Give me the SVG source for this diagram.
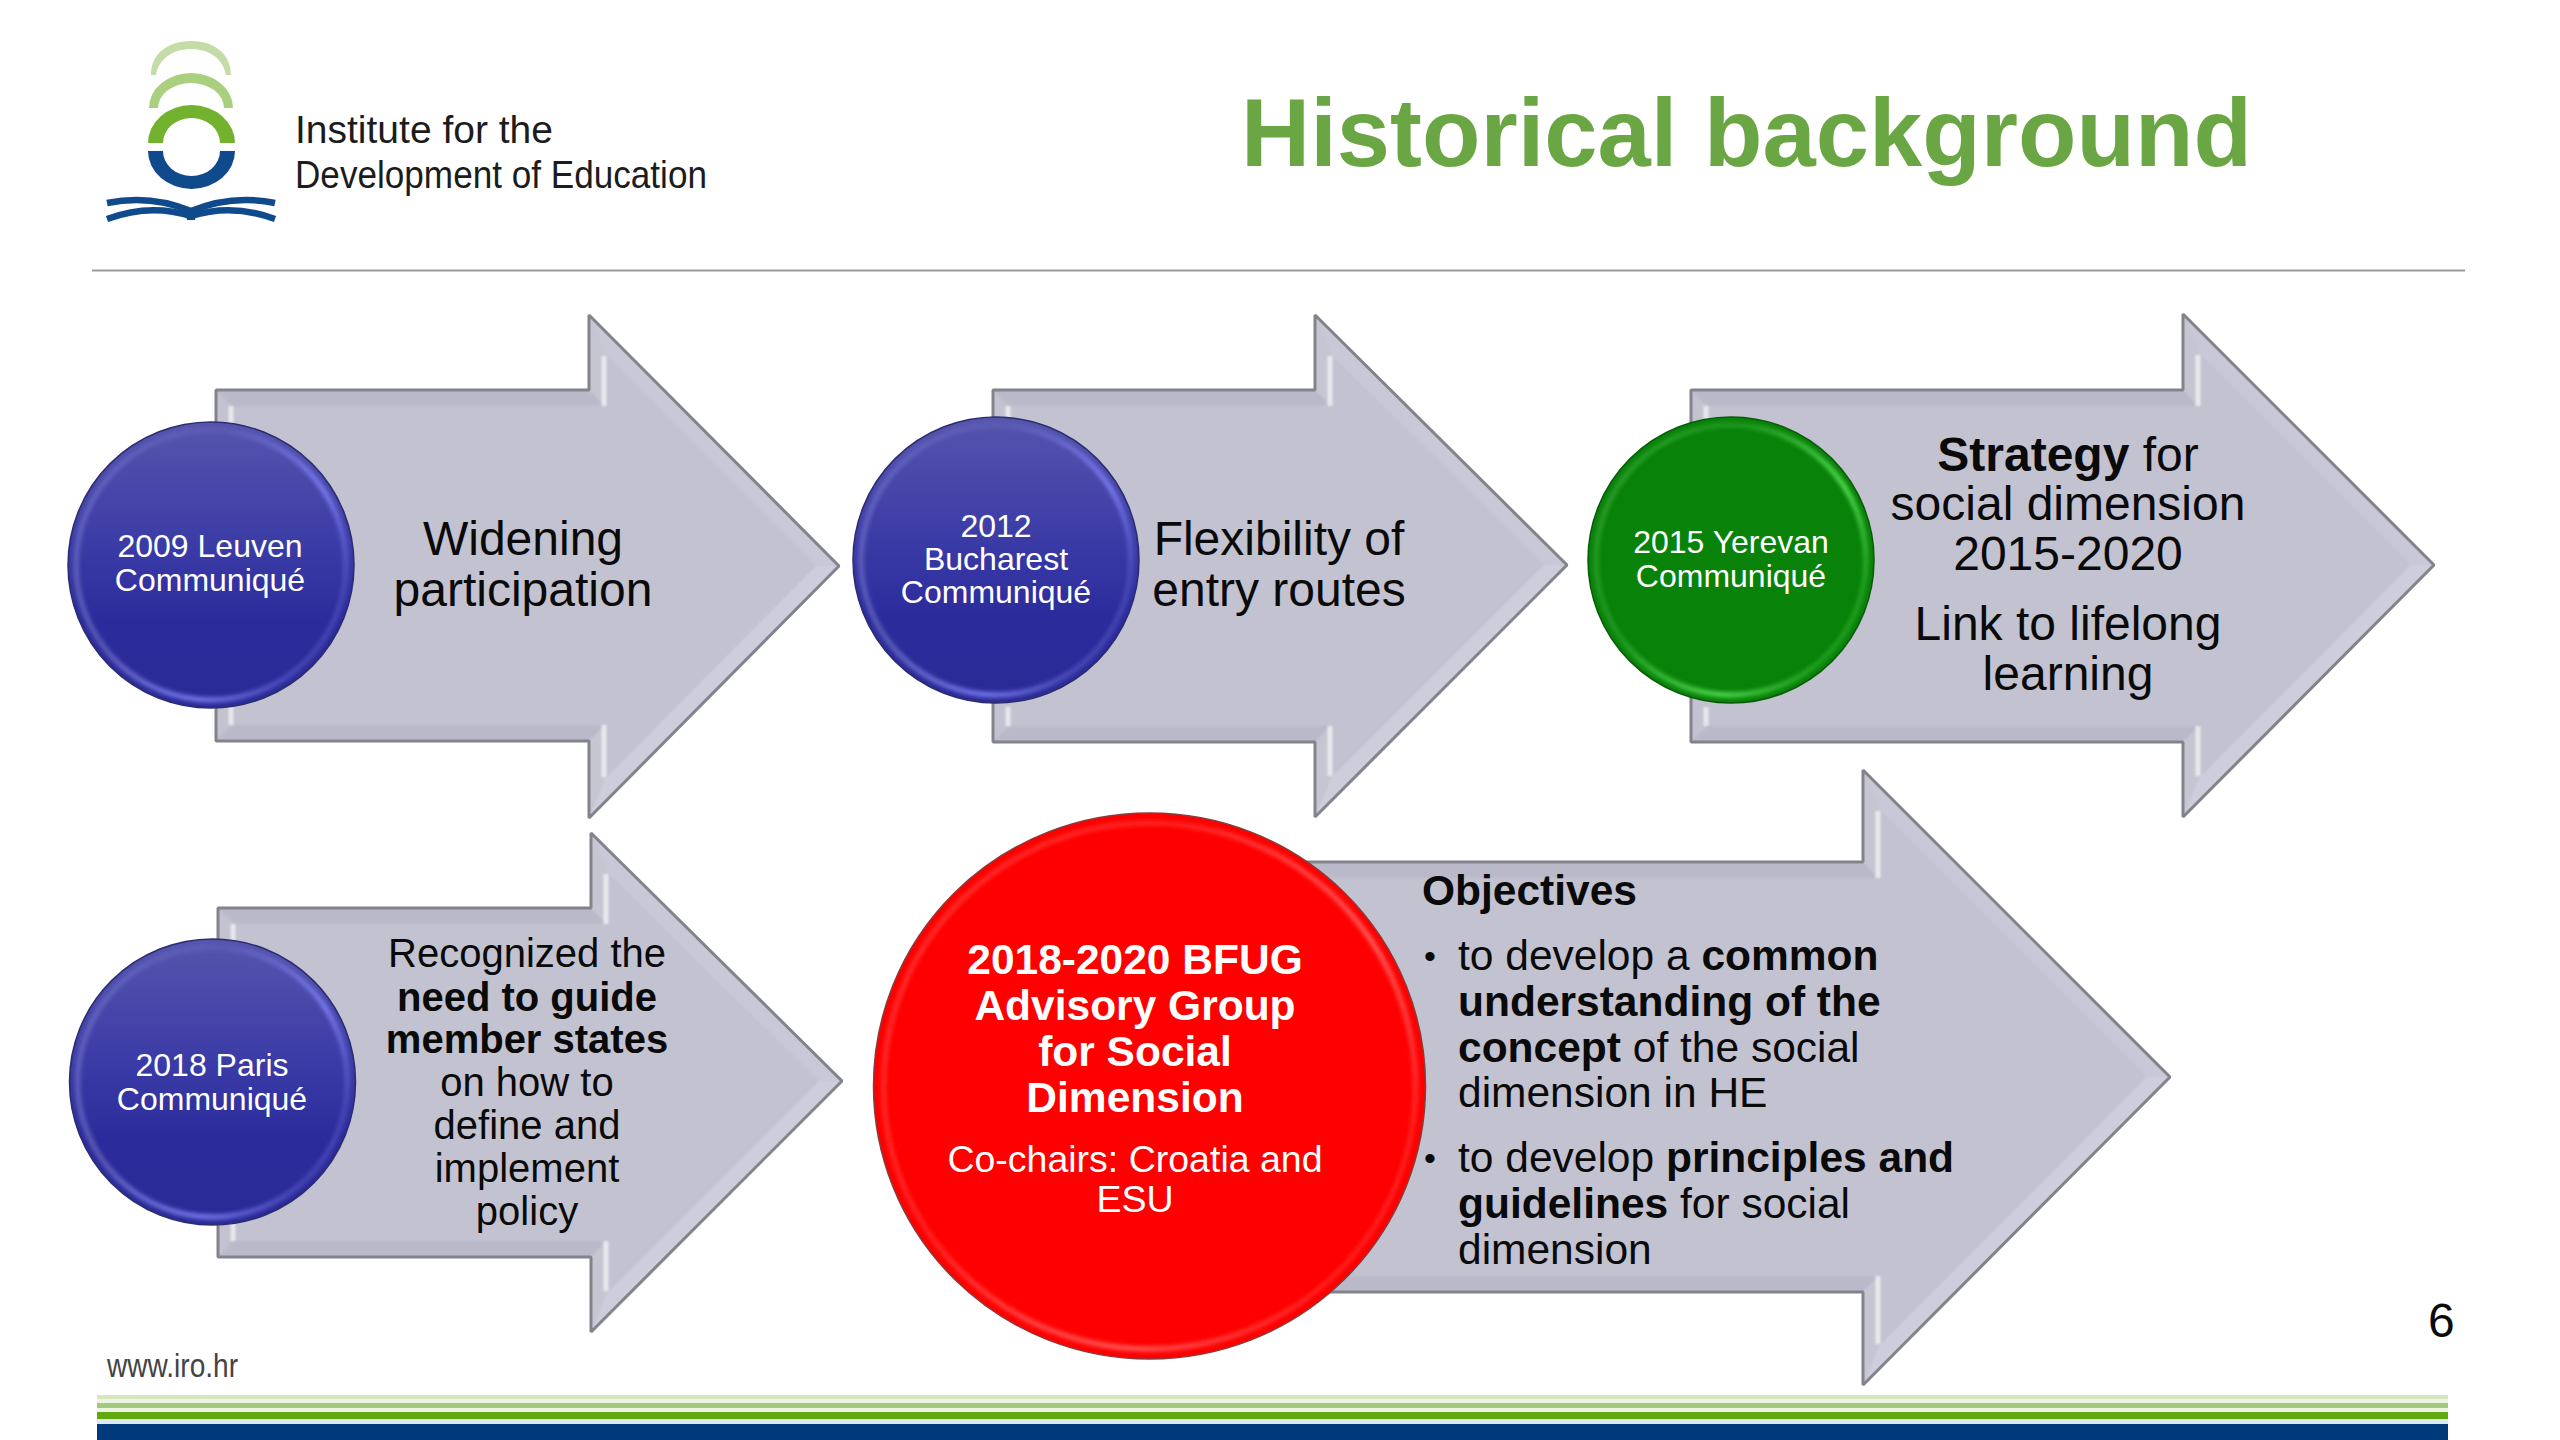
<svg xmlns="http://www.w3.org/2000/svg" width="2560" height="1440" viewBox="0 0 2560 1440">
<style>
text{font-family:"Liberation Sans",Arial,sans-serif;fill:#0a0a0a}
.c{text-anchor:middle}
.w{fill:#fff}
.b{font-weight:bold}
.t47{font-size:48px}.t40{font-size:40px}.t42{font-size:42.500px}.t32{font-size:32px}
.body{fill:#c2c2d0}
.edge{fill:none;stroke:#83838c;stroke-width:3;stroke-linejoin:miter;stroke-miterlimit:1}
.ft{fill:#b9b9c9}.fl{fill:#c6c6d2}.dt{fill:#c8c8d6}.db{fill:#cdcddb}
.hl{fill:none;stroke:#e8e8ee;stroke-width:5}
.rim{fill:none;stroke-width:5}
</style>
<defs>
<filter id="soft" x="-5%" y="-5%" width="110%" height="110%"><feGaussianBlur stdDeviation="1.2"/></filter>
<filter id="softer" x="-5%" y="-5%" width="110%" height="110%"><feGaussianBlur stdDeviation="2"/></filter>
<linearGradient id="blue" x1="0" y1="0" x2="0" y2="1"><stop offset="0" stop-color="#5555ad"/><stop offset=".45" stop-color="#3a3aa6"/><stop offset=".7" stop-color="#2b2b9c"/><stop offset="1" stop-color="#2a2a96"/></linearGradient>
<linearGradient id="blueRim" x1="0" y1="0" x2="1" y2=".6"><stop offset="0" stop-color="#6868c8"/><stop offset=".4" stop-color="#5c5cb4"/><stop offset=".78" stop-color="#7c7cf4"/><stop offset="1" stop-color="#4646b4"/></linearGradient>
<linearGradient id="greenRim" x1="0" y1="0" x2="1" y2=".6"><stop offset="0" stop-color="#30a030"/><stop offset=".4" stop-color="#209820"/><stop offset=".78" stop-color="#56e056"/><stop offset="1" stop-color="#20a020"/></linearGradient>
<linearGradient id="redRim" x1="0" y1="0" x2="1" y2=".6"><stop offset="0" stop-color="#ff3434"/><stop offset=".4" stop-color="#ff2424"/><stop offset=".78" stop-color="#ff6060"/><stop offset="1" stop-color="#ff2020"/></linearGradient>
</defs>
<rect width="2560" height="1440" fill="#fff"/>

<g id="logo">
<path fill="#c4dca8" d="M151,75 C151,52 170,41 191,41 C212,41 231,52 231,75 L226,75 C223,58 208,49 191,49 C174,49 159,58 156,75 Z"/>
<path fill="#a9cf7f" d="M149,108 A42,35 0 0 1 233,108 L224,108 A33,25 0 0 0 158,108 Z"/>
<path fill="#72b22e" d="M148,143 A43.5,38 0 0 1 235,143 L220,143 A28.5,25 0 0 0 163,143 Z"/>
<path fill="#0f4a8c" d="M148,151 A43.5,38 0 0 0 235,151 L220,151 A28.5,25 0 0 1 163,151 Z"/>
<path fill="none" stroke="#0f4a8c" stroke-width="6.500" d="M107,203 Q150,194 191,211 Q232,194 275,203"/>
<path fill="none" stroke="#0f4a8c" stroke-width="6.500" d="M107,219 Q150,203 191,216 Q232,203 275,219"/>
<path fill="#0f4a8c" d="M185,208 L197,208 L195,220 L187,220 Z"/>
<text x="295" y="143" font-size="39" style="fill:#1c1c1c" textLength="258" lengthAdjust="spacingAndGlyphs">Institute for the</text>
<text x="295" y="188" font-size="39" style="fill:#1c1c1c" textLength="412" lengthAdjust="spacingAndGlyphs">Development of Education</text>
</g>

<g id="title"><text x="1241" y="166" font-size="96" class="b" style="fill:#6aa644" textLength="1011" lengthAdjust="spacingAndGlyphs">Historical background</text></g>
<line id="header-rule" x1="92" y1="270.5" x2="2465" y2="270.5" stroke="#999" stroke-width="2"/>

<g id="connectors"></g>

<g id="arrow-leuven">
<polygon class="body" points="216,390 589,390 589,315 839,566 589,818 589,741 216,741"/>
<g filter="url(#soft)">
<polygon class="ft" points="216,390 589,390 605,406 232,406"/><polygon class="ft" points="589,741 216,741 232,725 605,725"/>
<polygon class="fl" points="589,390 589,315 605,354 605,406"/><polygon class="fl" points="589,818 589,741 605,725 605,779"/>
<polygon class="dt" points="589,315 839,566 816,566 605,354"/><polygon class="db" points="839,566 589,818 605,779 816,566"/>
<path class="hl" d="M604,406V356M604,725V777M231,406V425M231,725V706"/>
</g>
<polygon class="edge" points="216,390 589,390 589,315 839,566 589,818 589,741 216,741"/>
<text class="c t47" x="523" y="555">Widening</text><text class="c t47" x="523" y="606">participation</text>
</g>
<g id="circle-leuven">
<circle cx="211" cy="565" r="143" fill="url(#blue)" stroke="#2c2c70" stroke-width="1.500"/>
<circle class="rim" cx="211" cy="565" r="135" stroke="url(#blueRim)" filter="url(#softer)"/>
<text class="c t32 w" x="210" y="557">2009 Leuven</text><text class="c t32 w" x="210" y="591">Communiqué</text>
</g>

<g id="arrow-bucharest">
<polygon class="body" points="993,390 1315,390 1315,315 1567,565 1315,817 1315,742 993,742"/>
<g filter="url(#soft)">
<polygon class="ft" points="993,390 1315,390 1331,406 1009,406"/><polygon class="ft" points="1315,742 993,742 1009,726 1331,726"/>
<polygon class="fl" points="1315,390 1315,315 1331,354 1331,406"/><polygon class="fl" points="1315,817 1315,742 1331,726 1331,778"/>
<polygon class="dt" points="1315,315 1567,565 1544,565 1331,354"/><polygon class="db" points="1567,565 1315,817 1331,778 1544,565"/>
<path class="hl" d="M1330,406V356M1330,726V776M1008,406V425M1008,726V707"/>
</g>
<polygon class="edge" points="993,390 1315,390 1315,315 1567,565 1315,817 1315,742 993,742"/>
<text class="c t47" x="1279" y="555">Flexibility of</text><text class="c t47" x="1279" y="606">entry routes</text>
</g>
<g id="circle-bucharest">
<circle cx="996" cy="560" r="143" fill="url(#blue)" stroke="#2c2c70" stroke-width="1.500"/>
<circle class="rim" cx="996" cy="560" r="135" stroke="url(#blueRim)" filter="url(#softer)"/>
<text class="c t32 w" x="996" y="537">2012</text><text class="c t32 w" x="996" y="570">Bucharest</text><text class="c t32 w" x="996" y="603">Communiqué</text>
</g>

<g id="arrow-yerevan">
<polygon class="body" points="1691,390 2183,390 2183,314 2434,565 2183,817 2183,742 1691,742"/>
<g filter="url(#soft)">
<polygon class="ft" points="1691,390 2183,390 2199,406 1707,406"/><polygon class="ft" points="2183,742 1691,742 1707,726 2199,726"/>
<polygon class="fl" points="2183,390 2183,314 2199,353 2199,406"/><polygon class="fl" points="2183,817 2183,742 2199,726 2199,778"/>
<polygon class="dt" points="2183,314 2434,565 2411,565 2199,353"/><polygon class="db" points="2434,565 2183,817 2199,778 2411,565"/>
<path class="hl" d="M2198,406V355M2198,726V776M1706,406V425M1706,726V707"/>
</g>
<polygon class="edge" points="1691,390 2183,390 2183,314 2434,565 2183,817 2183,742 1691,742"/>
<text class="c t47" x="2068" y="471"><tspan class="b">Strategy</tspan> for</text>
<text class="c t47" x="2068" y="520">social dimension</text><text class="c t47" x="2068" y="570">2015-2020</text>
<text class="c t47" x="2068" y="640">Link to lifelong</text><text class="c t47" x="2068" y="690">learning</text>
</g>
<g id="circle-yerevan">
<circle cx="1731" cy="560" r="143" fill="#088208" stroke="#0a5a0a" stroke-width="1.500"/>
<circle class="rim" cx="1731" cy="560" r="135" stroke="url(#greenRim)" filter="url(#softer)"/>
<text class="c t32 w" x="1731" y="553">2015 Yerevan</text><text class="c t32 w" x="1731" y="587">Communiqué</text>
</g>

<g id="arrow-paris">
<polygon class="body" points="218,908 591,908 591,833 842,1081 591,1332 591,1257 218,1257"/>
<g filter="url(#soft)">
<polygon class="ft" points="218,908 591,908 607,924 234,924"/><polygon class="ft" points="591,1257 218,1257 234,1241 607,1241"/>
<polygon class="fl" points="591,908 591,833 607,872 607,924"/><polygon class="fl" points="591,1332 591,1257 607,1241 607,1293"/>
<polygon class="dt" points="591,833 842,1081 819,1081 607,872"/><polygon class="db" points="842,1081 591,1332 607,1293 819,1081"/>
<path class="hl" d="M606,924V874M606,1241V1291M233,924V943M233,1241V1222"/>
</g>
<polygon class="edge" points="218,908 591,908 591,833 842,1081 591,1332 591,1257 218,1257"/>
<text class="c t40" x="527" y="967">Recognized the</text>
<text class="c t40 b" x="527" y="1011">need to guide</text><text class="c t40 b" x="527" y="1053">member states</text>
<text class="c t40" x="527" y="1096">on how to</text><text class="c t40" x="527" y="1139">define and</text>
<text class="c t40" x="527" y="1182">implement</text><text class="c t40" x="527" y="1225">policy</text>
</g>
<g id="circle-paris">
<circle cx="212.500" cy="1082" r="143" fill="url(#blue)" stroke="#2c2c70" stroke-width="1.500"/>
<circle class="rim" cx="212.500" cy="1082" r="135" stroke="url(#blueRim)" filter="url(#softer)"/>
<text class="c t32 w" x="212" y="1076">2018 Paris</text><text class="c t32 w" x="212" y="1110">Communiqué</text>
</g>

<g id="arrow-bfug">
<polygon class="body" points="1300,862 1863,862 1863,770 2170,1077 1863,1385 1863,1292 1300,1292"/>
<g filter="url(#soft)">
<polygon class="ft" points="1300,862 1863,862 1879,878 1316,878"/><polygon class="ft" points="1863,1292 1300,1292 1316,1276 1879,1276"/>
<polygon class="fl" points="1863,862 1863,770 1879,809 1879,878"/><polygon class="fl" points="1863,1385 1863,1292 1879,1276 1879,1346"/>
<polygon class="dt" points="1863,770 2170,1077 2147,1077 1879,809"/><polygon class="db" points="2170,1077 1863,1385 1879,1346 2147,1077"/>
<path class="hl" d="M1878,878V811M1878,1276V1344"/>
</g>
<polygon class="edge" points="1300,862 1863,862 1863,770 2170,1077 1863,1385 1863,1292 1300,1292"/>
</g>
<g id="circle-bfug">
<ellipse cx="1149.500" cy="1086" rx="276" ry="273" fill="#fe0000" stroke="#8a3a3a" stroke-width="1.500"/>
<ellipse class="rim" cx="1149.500" cy="1086" rx="266" ry="263" stroke="url(#redRim)" filter="url(#softer)"/>
<text class="c t42 b w" x="1135" y="974">2018-2020 BFUG</text><text class="c t42 b w" x="1135" y="1020">Advisory Group</text>
<text class="c t42 b w" x="1135" y="1066">for Social</text><text class="c t42 b w" x="1135" y="1112">Dimension</text>
<text class="c w" font-size="37.500" x="1135" y="1172">Co-chairs: Croatia and</text><text class="c w" font-size="37.500" x="1135" y="1212">ESU</text>
</g>
<g id="objectives">
<text class="t42 b" x="1422" y="905">Objectives</text>
<text font-size="34" x="1424" y="968">•</text>
<text class="t42" x="1458" y="970">to develop a <tspan class="b">common</tspan></text>
<text class="t42 b" x="1458" y="1016">understanding of the</text>
<text class="t42" x="1458" y="1062"><tspan class="b">concept</tspan> of the social</text>
<text class="t42" x="1458" y="1107">dimension in HE</text>
<text font-size="34" x="1424" y="1170">•</text>
<text class="t42" x="1458" y="1172">to develop <tspan class="b">principles and</tspan></text>
<text class="t42" x="1458" y="1218"><tspan class="b">guidelines</tspan> for social</text>
<text class="t42" x="1458" y="1264">dimension</text>
</g>

<g id="footer">
<text x="107" y="1377" font-size="33" style="fill:#444" textLength="131" lengthAdjust="spacingAndGlyphs">www.iro.hr</text>
<text x="2428" y="1337" font-size="48">6</text>
<rect x="97" y="1395" width="2351" height="4" fill="#d9e5bf"/>
<rect x="97" y="1399" width="2351" height="4" fill="#eef4e2"/>
<rect x="97" y="1403" width="2351" height="5" fill="#a3c97c"/>
<rect x="97" y="1408" width="2351" height="4" fill="#eef4e2"/>
<rect x="97" y="1412" width="2351" height="7" fill="#62a80f"/>
<rect x="97" y="1419" width="2351" height="5" fill="#dce9f0"/>
<rect x="97" y="1424" width="2351" height="16" fill="#003a7a"/>
</g>
</svg>
